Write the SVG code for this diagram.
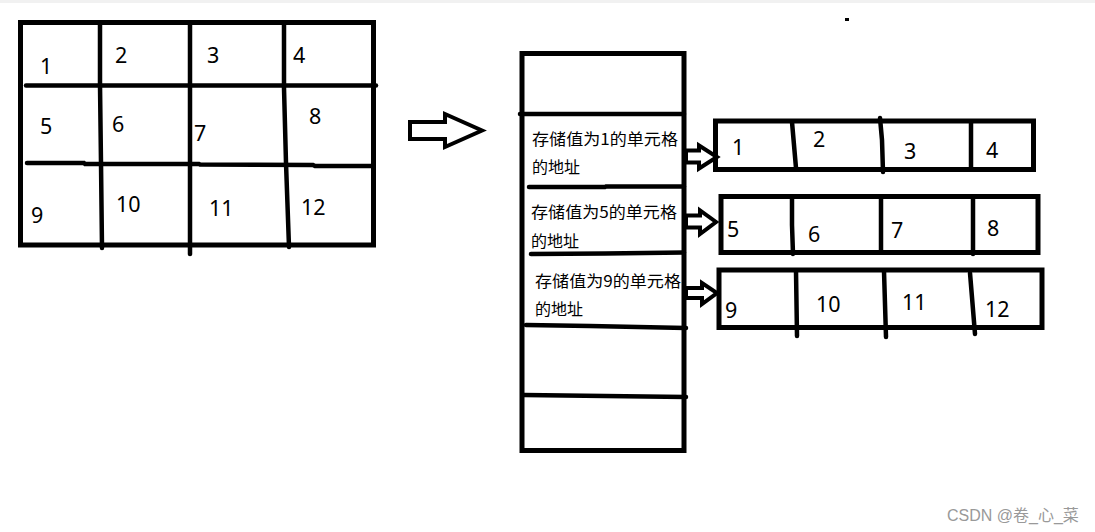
<svg xmlns="http://www.w3.org/2000/svg" width="1095" height="532" viewBox="0 0 1095 532">
<style>
.ln{stroke:#000;stroke-width:4.5;fill:none;stroke-linecap:round}
.bx{stroke:#000;stroke-width:5;fill:none}
.num{font-family:"Noto Sans","Open Sans",sans-serif;font-size:21.5px;fill:#000}
.cn{font-family:"Noto Sans CJK SC","Noto Sans",sans-serif;font-size:16px;fill:#000}
.arr{stroke:#000;stroke-width:4;fill:#fff;stroke-linejoin:miter}
.wm{font-family:"Liberation Sans","Noto Sans CJK SC",sans-serif;font-size:16px;fill:#999}
</style>
<rect x="0" y="0" width="1095" height="532" fill="#fff"/>
<rect x="0" y="0" width="1095" height="3" fill="#f1f1f1"/>
<rect x="845" y="18" width="4" height="3" fill="#000"/>

<g id="grid">
  <rect class="bx" x="20.5" y="22.5" width="353" height="222.5"/>
  <polyline class="ln" points="100,24 100,85 101,163 102,248"/>
  <polyline class="ln" points="190,24 190,163 190,254"/>
  <polyline class="ln" points="284,24 284,88 286,163 289,247"/>
  <polyline class="ln" points="26,85.5 376,85.5"/>
  <polyline class="ln" points="27,163 84,163 85,164 199,164 200,164.5 313,165 315,166 372,166"/>
  <text class="num" x="40" y="74">1</text>
  <text class="num" x="115" y="63">2</text>
  <text class="num" x="207" y="63">3</text>
  <text class="num" x="293" y="63">4</text>
  <text class="num" x="40" y="134">5</text>
  <text class="num" x="112" y="132">6</text>
  <text class="num" x="194" y="141">7</text>
  <text class="num" x="309" y="124">8</text>
  <text class="num" x="31" y="223">9</text>
  <text class="num" x="116" y="212">10</text>
  <text class="num" x="209" y="216">11</text>
  <text class="num" x="301" y="215">12</text>
</g>

<g id="connectors">
  <polygon class="arr" points="410,122 445,122 445,114 482,130.5 445,147 445,139 410,139"/>
  <polygon class="arr" points="686,150.5 699,150.5 699,145.5 717,157 699,168.5 699,162.5 686,162.5"/>
  <polygon class="arr" points="686,215.5 700,215.5 700,210.5 716,222 700,234 700,227.5 686,227.5"/>
  <polygon class="arr" points="686,288 702,288 702,283 717,293 702,304 702,298 686,298"/>
</g>

<g id="pointer-array">
  <rect class="bx" x="522" y="53.5" width="162" height="397"/>
  <polyline class="ln" points="520,114 684,114"/>
  <polyline class="ln" points="529,187 605,187 606,186.5 684,186.5"/>
  <polyline class="ln" points="531,254 605,253.5 684,252.5"/>
  <polyline class="ln" points="526,325 590,326 686,328"/>
  <polyline class="ln" points="524,395 605,396 686,397"/>
  <text class="cn" x="532" y="145" textLength="146" lengthAdjust="spacingAndGlyphs">存储值为1的单元格</text>
  <text class="cn" x="532" y="173">的地址</text>
  <text class="cn" x="531" y="218" textLength="146" lengthAdjust="spacingAndGlyphs">存储值为5的单元格</text>
  <text class="cn" x="531" y="247">的地址</text>
  <text class="cn" x="535" y="287" textLength="146" lengthAdjust="spacingAndGlyphs">存储值为9的单元格</text>
  <text class="cn" x="535" y="315">的地址</text>
</g>

<g id="row1">
  <rect class="bx" x="715.5" y="121" width="318" height="48.5"/>
  <polyline class="ln" points="792,122 796,168"/>
  <polyline class="ln" points="880,118 882,140 883,172"/>
  <polyline class="ln" points="971,122 971,168"/>
  <text class="num" x="732" y="155">1</text>
  <text class="num" x="813" y="147">2</text>
  <text class="num" x="904" y="159">3</text>
  <text class="num" x="986" y="158">4</text>
</g>

<g id="row2">
  <rect class="bx" x="721" y="196.5" width="317" height="56"/>
  <polyline class="ln" points="792,198 792,225 793,254"/>
  <polyline class="ln" points="881,198 881,251"/>
  <polyline class="ln" points="973,198 973,254"/>
  <text class="num" x="727" y="237">5</text>
  <text class="num" x="808" y="242">6</text>
  <text class="num" x="891" y="238">7</text>
  <text class="num" x="987" y="236">8</text>
</g>

<g id="row3">
  <rect class="bx" x="719" y="270" width="323" height="57.5"/>
  <polyline class="ln" points="796,271 797,336"/>
  <polyline class="ln" points="884,271 886,337"/>
  <polyline class="ln" points="970,273 975,334"/>
  <text class="num" x="725" y="318">9</text>
  <text class="num" x="816" y="312">10</text>
  <text class="num" x="902" y="310">11</text>
  <text class="num" x="985" y="317">12</text>
</g>

<text class="wm" x="947" y="521">CSDN @卷_心_菜</text>
</svg>
